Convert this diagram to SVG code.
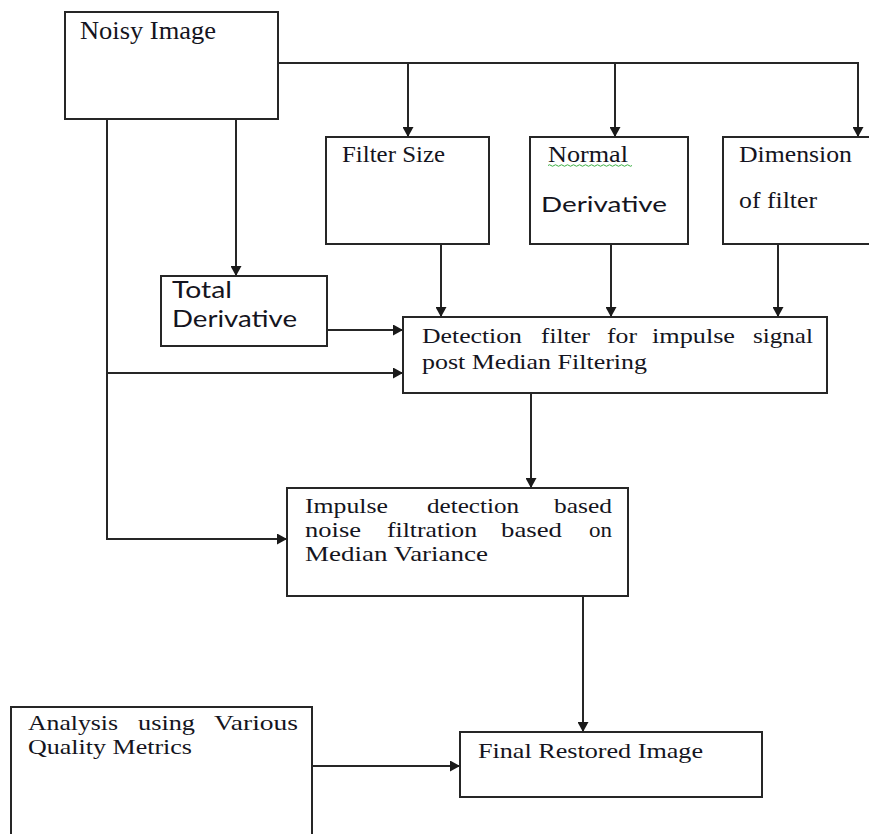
<svg xmlns="http://www.w3.org/2000/svg" width="869" height="834" viewBox="0 0 869 834">
<style>
.box{fill:#fff;stroke:#262626;stroke-width:2}
.ln{fill:none;stroke:#262626;stroke-width:2}
.s{font-family:"Liberation Serif","Times New Roman",serif;fill:#141420}
.a{font-family:Lato,"Open Sans","Liberation Sans",sans-serif;fill:#141420}
</style>
<defs>
<marker id="ar" markerWidth="11" markerHeight="11" refX="10" refY="5.5" orient="auto" markerUnits="userSpaceOnUse">
<path d="M0,0 L10,5.5 L0,11 z" fill="#1a1a1a"/>
</marker>
</defs>
<rect width="869" height="834" fill="#fff"/>
<g id="connectors">
<path class="ln" d="M278,63 H858 V137" marker-end="url(#ar)"/>
<path class="ln" d="M408,63 V137" marker-end="url(#ar)"/>
<path class="ln" d="M615,63 V137" marker-end="url(#ar)"/>
<path class="ln" d="M236,119 V276" marker-end="url(#ar)"/>
<path class="ln" d="M107,119 V539 H287" marker-end="url(#ar)"/>
<path class="ln" d="M107,373 H403" marker-end="url(#ar)"/>
<path class="ln" d="M327,330 H403" marker-end="url(#ar)"/>
<path class="ln" d="M441,244 V317" marker-end="url(#ar)"/>
<path class="ln" d="M611,244 V317" marker-end="url(#ar)"/>
<path class="ln" d="M778,244 V317" marker-end="url(#ar)"/>
<path class="ln" d="M531,393 V488" marker-end="url(#ar)"/>
<path class="ln" d="M583,596 V732" marker-end="url(#ar)"/>
<path class="ln" d="M312,766 H460" marker-end="url(#ar)"/>
</g>
<g id="noisy-image">
<rect class="box" x="65" y="12" width="213" height="107"/>
<text class="s" x="80" y="39" font-size="25" textLength="136" lengthAdjust="spacingAndGlyphs">Noisy Image</text>
</g>
<g id="filter-size">
<rect class="box" x="326" y="137" width="163" height="107"/>
<text class="s" x="342" y="162" font-size="23" textLength="103" lengthAdjust="spacingAndGlyphs">Filter Size</text>
</g>
<g id="normal-derivative">
<rect class="box" x="530" y="137" width="158" height="107"/>
<text class="s" x="548" y="162" font-size="23" textLength="80" lengthAdjust="spacingAndGlyphs">Normal</text>
<path d="M548,165.5 q1.5,-1.5 3,0 t3,0 t3,0 t3,0 t3,0 t3,0 t3,0 t3,0 t3,0 t3,0 t3,0 t3,0 t3,0 t3,0 t3,0 t3,0 t3,0 t3,0 t3,0 t3,0 t3,0 t3,0 t3,0 t3,0 t3,0 t3,0 t3,0 t3,0" fill="none" stroke="#3cb043" stroke-width="1"/>
<text class="a" x="541" y="212" font-size="22" textLength="126" lengthAdjust="spacingAndGlyphs">Derivative</text>
</g>
<g id="dimension-of-filter">
<rect class="box" x="723" y="137" width="160" height="107"/>
<text class="s" x="739" y="162" font-size="23" textLength="113" lengthAdjust="spacingAndGlyphs">Dimension</text>
<text class="s" x="739" y="208" font-size="23" textLength="78" lengthAdjust="spacingAndGlyphs">of filter</text>
</g>
<g id="total-derivative">
<rect class="box" x="161" y="276" width="166" height="70"/>
<text class="a" x="172" y="298" font-size="22.5" textLength="60" lengthAdjust="spacingAndGlyphs">Total</text>
<text class="a" x="172" y="327" font-size="22.5" textLength="125" lengthAdjust="spacingAndGlyphs">Derivative</text>
</g>
<g id="detection-filter">
<rect class="box" x="403" y="317" width="424" height="76"/>
<text class="s" x="422" y="343" font-size="22" textLength="100" lengthAdjust="spacingAndGlyphs">Detection</text>
<text class="s" x="541" y="343" font-size="22" textLength="49" lengthAdjust="spacingAndGlyphs">filter</text>
<text class="s" x="607" y="343" font-size="22" textLength="30" lengthAdjust="spacingAndGlyphs">for</text>
<text class="s" x="652" y="343" font-size="22" textLength="83" lengthAdjust="spacingAndGlyphs">impulse</text>
<text class="s" x="753" y="343" font-size="22" textLength="60" lengthAdjust="spacingAndGlyphs">signal</text>
<text class="s" x="422" y="369" font-size="22" textLength="225" lengthAdjust="spacingAndGlyphs">post Median Filtering</text>
</g>
<g id="impulse-detection">
<rect class="box" x="287" y="488" width="341" height="108"/>
<text class="s" x="305" y="513" font-size="22" textLength="83" lengthAdjust="spacingAndGlyphs">Impulse</text>
<text class="s" x="427" y="513" font-size="22" textLength="92" lengthAdjust="spacingAndGlyphs">detection</text>
<text class="s" x="554" y="513" font-size="22" textLength="58" lengthAdjust="spacingAndGlyphs">based</text>
<text class="s" x="305" y="537" font-size="22" textLength="56" lengthAdjust="spacingAndGlyphs">noise</text>
<text class="s" x="387" y="537" font-size="22" textLength="90" lengthAdjust="spacingAndGlyphs">filtration</text>
<text class="s" x="501" y="537" font-size="22" textLength="61" lengthAdjust="spacingAndGlyphs">based</text>
<text class="s" x="589" y="537" font-size="22" textLength="23" lengthAdjust="spacingAndGlyphs">on</text>
<text class="s" x="305" y="561" font-size="22" textLength="183" lengthAdjust="spacingAndGlyphs">Median Variance</text>
</g>
<g id="final-restored-image">
<rect class="box" x="460" y="732" width="302" height="65"/>
<text class="s" x="478" y="758" font-size="21.5" textLength="225" lengthAdjust="spacingAndGlyphs">Final Restored Image</text>
</g>
<g id="analysis-quality-metrics">
<rect class="box" x="11" y="707" width="301" height="140"/>
<text class="s" x="28" y="730" font-size="21.5" textLength="90" lengthAdjust="spacingAndGlyphs">Analysis</text>
<text class="s" x="138" y="730" font-size="21.5" textLength="57" lengthAdjust="spacingAndGlyphs">using</text>
<text class="s" x="214" y="730" font-size="21.5" textLength="84" lengthAdjust="spacingAndGlyphs">Various</text>
<text class="s" x="28" y="754" font-size="21.5" textLength="164" lengthAdjust="spacingAndGlyphs">Quality Metrics</text>
</g>
</svg>
